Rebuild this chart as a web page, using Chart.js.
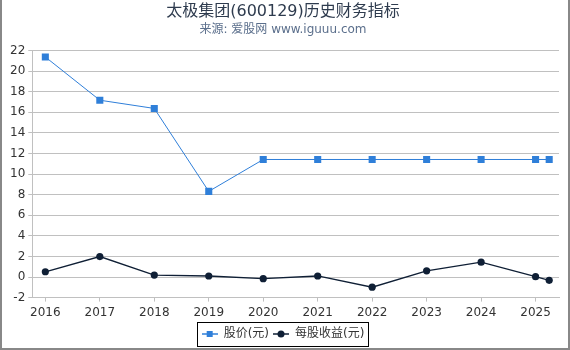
<!DOCTYPE html>
<html>
<head>
<meta charset="utf-8">
<script src="https://cdn.jsdelivr.net/npm/chart.js"></script>
<style>
body { margin: 0; background: #fff; }
#wrap { position: relative; width: 570px; height: 350px; }
#frame { position: absolute; left: 0; top: 0; width: 570px; height: 350px; box-sizing: border-box;
         border: 2px solid #888; border-top: none; pointer-events: none; }
</style>
</head>
<body>
<div id="wrap">
  <canvas id="c" width="570" height="350"></canvas>
  <div id="frame"></div>
</div>
<script>
// data
var years = [2016, 2017, 2018, 2019, 2020, 2021, 2022, 2023, 2024, 2025, 2025.25];
var yearTicks = [2016, 2017, 2018, 2019, 2020, 2021, 2022, 2023, 2024, 2025];
var price = [21.38, 17.18, 16.38, 8.32, 11.42, 11.42, 11.42, 11.42, 11.42, 11.42, 11.42];
var eps = [0.51, 1.99, 0.19, 0.10, -0.16, 0.10, -0.99, 0.60, 1.44, 0.03, -0.32];
var seriesNames = ['股价(元)', '每股收益(元)'];

var blue = '#2f7fd9';
var navy = '#0f1f35';
var font = 'DejaVu Sans, Noto Sans CJK SC, sans-serif';

function pts(vals) {
    return years.map(function (x, i) { return { x: x, y: vals[i] }; });
}

// little line + marker icon for the legend
function icon(color, kind) {
    var c = document.createElement('canvas');
    c.width = 16; c.height = 8;
    var g = c.getContext('2d');
    g.strokeStyle = color; g.lineWidth = 1.5;
    g.beginPath(); g.moveTo(0, 4); g.lineTo(16, 4); g.stroke();
    g.fillStyle = color;
    if (kind == 'rect') {
        g.fillRect(5, 1, 6, 6);
    } else {
        g.beginPath(); g.arc(8, 4, 3.5, 0, Math.PI * 2); g.fill();
    }
    return c;
}
var icons = [icon(blue, 'rect'), icon(navy, 'circle')];

var legendFrame = {
    id: 'legendFrame',
    afterDraw: function (chart) {
        var boxes = chart.legend.legendHitBoxes;
        if (!boxes || !boxes.length) return;
        var l = Infinity, r = -Infinity, t = Infinity, b = -Infinity;
        boxes.forEach(function (h) {
            l = Math.min(l, h.left); r = Math.max(r, h.left + h.width);
            t = Math.min(t, h.top); b = Math.max(b, h.top + h.height);
        });
        var ctx = chart.ctx;
        ctx.save();
        ctx.strokeStyle = '#000';
        ctx.lineWidth = 1;
        ctx.strokeRect(Math.round(l - 5) + 0.5, Math.round(t - 6) + 0.5, Math.round(r - l + 8), Math.round(b - t + 12));
        ctx.restore();
    }
};

var ctx = document.getElementById('c').getContext('2d');
var myChart = new Chart(ctx, {
    type: 'line',
    data: {
        datasets: [{
            label: seriesNames[0],
            data: pts(price),
            borderColor: blue,
            backgroundColor: blue,
            borderWidth: 1,
            pointStyle: 'rect',
            pointRadius: 5,
            pointBorderWidth: 0
        },
        {
            label: seriesNames[1],
            data: pts(eps),
            borderColor: navy,
            backgroundColor: navy,
            borderWidth: 1.3,
            pointStyle: 'circle',
            pointRadius: 3.6,
            pointBorderWidth: 0
        }]
    },
    options: {
        responsive: false,
        animation: false,
        layout: { padding: { left: 7, right: 11, top: 0, bottom: 0 } },
        plugins: {
            title: {
                display: true,
                text: '太极集团(600129)历史财务指标',
                color: '#2e3b4e',
                font: { family: font, size: 16, weight: 'normal' },
                padding: { top: 2, bottom: 1 }
            },
            subtitle: {
                display: true,
                text: '来源: 爱股网 www.iguuu.com',
                color: '#5b6f8c',
                font: { family: font, size: 12 },
                padding: { top: 0, bottom: 14 }
            },
            legend: {
                position: 'bottom',
                labels: {
                    usePointStyle: true,
                    pointStyleWidth: 16,
                    padding: 4,
                    color: '#333',
                    font: { family: font, size: 12 },
                    generateLabels: function (chart) {
                        return chart.data.datasets.map(function (ds, i) {
                            return { text: ds.label, pointStyle: icons[i], datasetIndex: i,
                                     fontColor: '#333', lineWidth: 0, strokeStyle: 'transparent' };
                        });
                    }
                }
            },
            tooltip: { enabled: false }
        },
        scales: {
            x: {
                type: 'linear',
                min: 2015.76,
                max: 2025.43,
                afterBuildTicks: function (axis) {
                    axis.ticks = yearTicks.map(function (v) { return { value: v }; });
                },
                ticks: {
                    color: '#333',
                    font: { family: font, size: 12 },
                    padding: 4,
                    maxRotation: 0,
                    callback: function (v) { return String(v); }
                },
                grid: { drawOnChartArea: false, color: '#c0c0c0', tickLength: 4 },
                border: { color: '#c0c0c0' }
            },
            y: {
                min: -2,
                max: 22,
                ticks: {
                    stepSize: 2,
                    color: '#333',
                    font: { family: font, size: 12 },
                    padding: 3
                },
                grid: { color: '#c0c0c0', tickLength: 4 },
                border: { color: '#c0c0c0' }
            }
        }
    },
    plugins: [legendFrame]
});
</script>
</body>
</html>
